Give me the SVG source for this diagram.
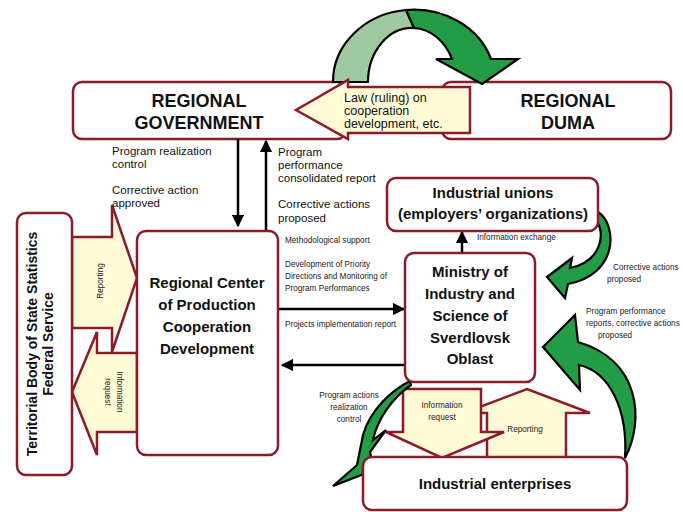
<svg xmlns="http://www.w3.org/2000/svg" width="683" height="512" viewBox="0 0 683 512">
<defs>
<style>
.box{fill:#fff;stroke:#8b1a2b;stroke-width:2.5}
.cream{fill:#fffbd6;stroke:#8b1a2b;stroke-width:2.5;stroke-linejoin:miter}
.green{fill:#229c45;stroke:#000;stroke-width:2.2;stroke-linejoin:miter}
.lgreen{fill:#9fc99f;stroke:#000;stroke-width:2.2}
.ln{stroke:#000;stroke-width:2.5;fill:none}
text{font-family:"Liberation Sans",Arial,sans-serif;fill:#111}
.big{font-size:18px;font-weight:bold;text-anchor:middle}
.bold{font-size:15px;font-weight:bold;text-anchor:middle}
.lab{font-size:11.5px}
.sm{font-size:8.2px;fill:#222}
.smc{font-size:8.2px;fill:#222;text-anchor:middle}
</style>
<marker id="ah" markerWidth="5" markerHeight="5" refX="4.5" refY="2.5" orient="auto" markerUnits="strokeWidth">
<path d="M0,0 L5,2.5 L0,5 Z" fill="#000"/>
</marker>
</defs>

<g id="regional-government">
<rect class="box" x="73" y="82" width="273" height="57" rx="9"/>
<text class="big" x="199" y="107">REGIONAL</text>
<text class="big" x="199" y="129">GOVERNMENT</text>
</g>

<g id="regional-duma">
<rect class="box" x="442" y="82" width="229" height="57" rx="9"/>
<text class="big" x="568" y="107">REGIONAL</text>
<text class="big" x="568" y="129">DUMA</text>
</g>

<g id="connectors">
<!-- top arc arrow -->
<path class="lgreen" d="M333,82 A81,72 0 0 1 406,10 L414,28 A44,54 0 0 0 368,82 Z"/>
<path class="green" d="M406,10 A81,72 0 0 1 491,59 L518,59 L482,84 L436,59 L452,59 A44,54 0 0 0 414,28 Z"/>
<!-- law arrow -->
<polygon class="cream" points="296,110 348,80 348,87 470,87 470,133 348,133 348,139"/>
<text x="344" y="102" style="font-size:12.5px">Law (ruling) on</text>
<text x="344" y="115" style="font-size:12.5px">cooperation</text>
<text x="344" y="128" style="font-size:12.5px">development, etc.</text>

<!-- gov <-> center -->
<line class="ln" x1="238" y1="139" x2="238" y2="226" marker-end="url(#ah)"/>
<line class="ln" x1="266" y1="231" x2="266" y2="141" marker-end="url(#ah)"/>
<!-- center <-> ministry -->
<line class="ln" x1="279" y1="309" x2="404" y2="309" marker-end="url(#ah)"/>
<line class="ln" x1="405" y1="365" x2="282" y2="365" marker-end="url(#ah)"/>
<!-- ministry -> unions -->
<line class="ln" x1="462" y1="253" x2="462" y2="232" marker-end="url(#ah)"/>

<!-- federal service arrows -->
<polygon class="cream" points="137,353 97,353 97,332 72,392 97,455 97,432 137,432"/>
<polygon class="cream" points="72,237 112,237 112,205 137,278 112,352 112,328 72,328"/>
<text class="smc" transform="translate(103,281) rotate(-90)">Reporting</text>
<text class="smc" transform="translate(117,392) rotate(90)">Information</text>
<text class="smc" transform="translate(105,392) rotate(90)">request</text>

<!-- bottom arrows -->
<polygon class="cream" points="487,458 487,413 464,413 527,389 590,413 566,413 566,458"/>
<polygon class="cream" points="403,389 481,389 481,432 504,432 442,458 386,432 403,432"/>
<text class="smc" x="442" y="408">Information</text>
<text class="smc" x="442" y="420">request</text>
<text class="smc" x="525" y="432">Reporting</text>

<!-- green curved arrows -->
<path class="green" d="M598,212 C618,225 618,275 568,284 L565,298 L547,277 L572,258 L570,268 C600,262 606,235 597,222 Z"/>
<path class="green" d="M625,458 C645,420 640,360 578,342 L575,315 L543,347 L580,390 L579,365 C610,372 628,410 625,458 Z"/>
<path class="green" d="M410,381 C392,390 370,410 363,435 L357,465 L333,486 L374,470 L370,452 L386,430 L373,440 C377,420 392,398 411,385 Z"/>

<!-- labels -->
<text class="lab" x="112" y="155">Program realization</text>
<text class="lab" x="112" y="168">control</text>
<text class="lab" x="112" y="194">Corrective action</text>
<text class="lab" x="112" y="207">approved</text>
<text class="lab" x="278" y="156">Program</text>
<text class="lab" x="278" y="169">performance</text>
<text class="lab" x="278" y="182">consolidated report</text>
<text class="lab" x="278" y="208">Corrective actions</text>
<text class="lab" x="278" y="222">proposed</text>

<text class="sm" x="285" y="243">Methodological support</text>
<text class="sm" x="285" y="267">Development of Priority</text>
<text class="sm" x="285" y="279">Directions and Monitoring of</text>
<text class="sm" x="285" y="291">Program Performances</text>
<text class="sm" x="285" y="327">Projects implementation report</text>
<text class="sm" x="477" y="240">Information exchange</text>
<text class="sm" x="613" y="270">Corrective actions</text>
<text class="sm" x="607" y="282">proposed</text>
<text class="sm" x="586" y="314">Program performance</text>
<text class="sm" x="586" y="326">reports, corrective actions</text>
<text class="sm" x="598" y="338">proposed</text>
<text class="smc" x="349" y="398">Program actions</text>
<text class="smc" x="349" y="410">realization</text>
<text class="smc" x="349" y="422">control</text>
</g>

<g id="federal-service">
<rect class="box" x="17" y="213" width="55" height="262" rx="9"/>
<text class="bold" style="font-size:14px" transform="translate(37,344) rotate(-90)">Territorial Body of State Statistics</text>
<text class="bold" style="font-size:14px" transform="translate(53,344) rotate(-90)">Federal Service</text>
</g>

<g id="regional-center">
<rect class="box" x="137" y="231" width="141" height="224" rx="9"/>
<text class="bold" x="207" y="288">Regional Center</text>
<text class="bold" x="207" y="310">of Production</text>
<text class="bold" x="207" y="332">Cooperation</text>
<text class="bold" x="207" y="354">Development</text>
</g>

<g id="industrial-unions">
<rect class="box" x="387" y="178" width="211" height="53" rx="9"/>
<text class="bold" x="493" y="198">Industrial unions</text>
<text class="bold" x="493" y="219">(employers’ organizations)</text>
</g>

<g id="ministry">
<rect class="box" x="405" y="253" width="130" height="129" rx="9"/>
<text class="bold" x="470" y="277">Ministry of</text>
<text class="bold" x="470" y="299">Industry and</text>
<text class="bold" x="470" y="321">Science of</text>
<text class="bold" x="470" y="343">Sverdlovsk</text>
<text class="bold" x="470" y="364">Oblast</text>
</g>

<g id="industrial-enterprises">
<rect class="box" x="363" y="457" width="264" height="53" rx="9"/>
<text class="bold" x="495" y="489">Industrial enterprises</text>
</g>
</svg>
